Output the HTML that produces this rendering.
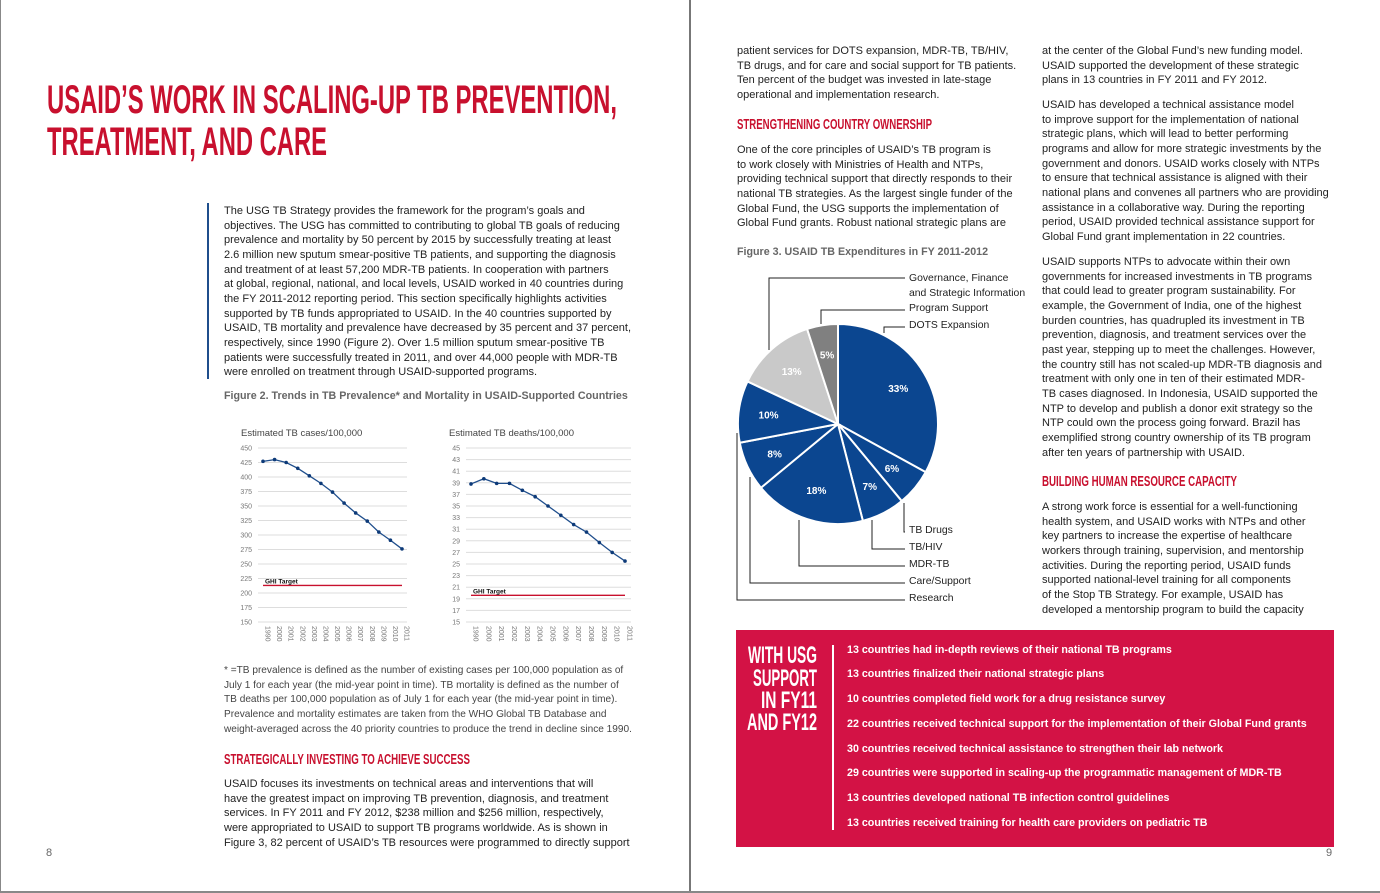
<!DOCTYPE html>
<html><head><meta charset="utf-8">
<style>
body{margin:0;width:1380px;height:893px;background:#fff;position:relative;overflow:hidden;font-family:"Liberation Sans",sans-serif;color:#222}
.t{position:absolute;font-size:11px;line-height:14.65px;white-space:pre;color:#222}
.cap{position:absolute;font-size:10.7px;color:#666;white-space:pre;font-weight:bold}
.pl{position:absolute;font-size:10.4px;white-space:pre;color:#222}
.box{position:absolute;left:736px;top:630px;width:598px;height:217px;background:#d31245}
.bi{position:absolute;left:111px;font-size:10.7px;color:#fff;font-weight:bold;white-space:pre}
.hd{font-family:"Liberation Sans Narrow","Liberation Sans",sans-serif;font-weight:bold;fill:#c8102e}
</style></head><body>
<div style="position:absolute;left:0;top:0;width:1px;height:893px;background:#888"></div>
<div style="position:absolute;left:689px;top:0;width:2px;height:893px;background:#777"></div>
<div style="position:absolute;left:0;top:891px;width:1380px;height:2px;background:#888"></div>

<div style="position:absolute;left:207px;top:203px;width:2px;height:176px;background:#1f4e8c"></div>
<div class="t" style="left:224px;top:204px">The USG TB Strategy provides the framework for the program’s goals and
objectives. The USG has committed to contributing to global TB goals of reducing
prevalence and mortality by 50 percent by 2015 by successfully treating at least
2.6 million new sputum smear-positive TB patients, and supporting the diagnosis
and treatment of at least 57,200 MDR-TB patients. In cooperation with partners
at global, regional, national, and local levels, USAID worked in 40 countries during
the FY 2011-2012 reporting period. This section specifically highlights activities
supported by TB funds appropriated to USAID. In the 40 countries supported by
USAID, TB mortality and prevalence have decreased by 35 percent and 37 percent,
respectively, since 1990 (Figure 2). Over 1.5 million sputum smear-positive TB
patients were successfully treated in 2011, and over 44,000 people with MDR-TB
were enrolled on treatment through USAID-supported programs.</div>
<div class="cap" style="left:224px;top:390px">Figure 2. Trends in TB Prevalence* and Mortality in USAID-Supported Countries</div>

<svg id="lines" style="position:absolute;left:0;top:0" width="690" height="660"></svg>

<div class="t" style="left:224px;top:664px;font-size:10.1px;color:#444">* =TB prevalence is defined as the number of existing cases per 100,000 population as of
July 1 for each year (the mid-year point in time). TB mortality is defined as the number of
TB deaths per 100,000 population as of July 1 for each year (the mid-year point in time).
Prevalence and mortality estimates are taken from the WHO Global TB Database and
weight-averaged across the 40 priority countries to produce the trend in decline since 1990.</div>
<div class="t" style="left:224px;top:777px">USAID focuses its investments on technical areas and interventions that will
have the greatest impact on improving TB prevention, diagnosis, and treatment
services. In FY 2011 and FY 2012, $238 million and $256 million, respectively,
were appropriated to USAID to support TB programs worldwide. As is shown in
Figure 3, 82 percent of USAID’s TB resources were programmed to directly support</div>
<div class="t" style="left:46px;top:846px;color:#666">8</div>
<div class="t" style="left:1326px;top:846px;color:#666">9</div>

<div class="t" style="left:737px;top:44px">patient services for DOTS expansion, MDR-TB, TB/HIV,
TB drugs, and for care and social support for TB patients.
Ten percent of the budget was invested in late-stage
operational and implementation research.</div>
<div class="t" style="left:737px;top:143px">One of the core principles of USAID’s TB program is
to work closely with Ministries of Health and NTPs,
providing technical support that directly responds to their
national TB strategies. As the largest single funder of the
Global Fund, the USG supports the implementation of
Global Fund grants. Robust national strategic plans are</div>
<div class="cap" style="left:737px;top:246px">Figure 3. USAID TB Expenditures in FY 2011-2012</div>

<svg id="pie" style="position:absolute;left:0;top:0" width="1040" height="620"></svg>
<div class="pl" style="left:909px;top:271px;line-height:15px">Governance, Finance
and Strategic Information</div>
<div class="pl" style="left:909px;top:303px">Program Support</div>
<div class="pl" style="left:909px;top:320px">DOTS Expansion</div>
<div class="pl" style="left:909px;top:525px">TB Drugs</div>
<div class="pl" style="left:909px;top:542px">TB/HIV</div>
<div class="pl" style="left:909px;top:559px">MDR-TB</div>
<div class="pl" style="left:909px;top:576px">Care/Support</div>
<div class="pl" style="left:909px;top:593px">Research</div>

<div class="t" style="left:1042px;top:44px">at the center of the Global Fund’s new funding model.
USAID supported the development of these strategic
plans in 13 countries in FY 2011 and FY 2012.</div>
<div class="t" style="left:1042px;top:98px">USAID has developed a technical assistance model
to improve support for the implementation of national
strategic plans, which will lead to better performing
programs and allow for more strategic investments by the
government and donors. USAID works closely with NTPs
to ensure that technical assistance is aligned with their
national plans and convenes all partners who are providing
assistance in a collaborative way. During the reporting
period, USAID provided technical assistance support for
Global Fund grant implementation in 22 countries.</div>
<div class="t" style="left:1042px;top:255px">USAID supports NTPs to advocate within their own
governments for increased investments in TB programs
that could lead to greater program sustainability. For
example, the Government of India, one of the highest
burden countries, has quadrupled its investment in TB
prevention, diagnosis, and treatment services over the
past year, stepping up to meet the challenges. However,
the country still has not scaled-up MDR-TB diagnosis and
treatment with only one in ten of their estimated MDR-
TB cases diagnosed. In Indonesia, USAID supported the
NTP to develop and publish a donor exit strategy so the
NTP could own the process going forward. Brazil has
exemplified strong country ownership of its TB program
after ten years of partnership with USAID.</div>
<div class="t" style="left:1042px;top:500px">A strong work force is essential for a well-functioning
health system, and USAID works with NTPs and other
key partners to increase the expertise of healthcare
workers through training, supervision, and mentorship
activities. During the reporting period, USAID funds
supported national-level training for all components
of the Stop TB Strategy. For example, USAID has
developed a mentorship program to build the capacity</div>

<div class="box">
  <div style="position:absolute;left:96px;top:15px;width:2px;height:185px;background:#fff"></div>
  <div class="bi" style="top:14px">13 countries had in-depth reviews of their national TB programs</div>
  <div class="bi" style="top:38px">13 countries finalized their national strategic plans</div>
  <div class="bi" style="top:63px">10 countries completed field work for a drug resistance survey</div>
  <div class="bi" style="top:88px">22 countries received technical support for the implementation of their Global Fund grants</div>
  <div class="bi" style="top:113px">30 countries received technical assistance to strengthen their lab network</div>
  <div class="bi" style="top:137px">29 countries were supported in scaling-up the programmatic management of MDR-TB</div>
  <div class="bi" style="top:162px">13 countries developed national TB infection control guidelines</div>
  <div class="bi" style="top:187px">13 countries received training for health care providers on pediatric TB</div>
</div>

<svg style="position:absolute;left:0;top:0;pointer-events:none" width="1380" height="893">
  <text class="hd" x="47" y="113" font-size="40" textLength="570" lengthAdjust="spacingAndGlyphs">USAID’S WORK IN SCALING-UP TB PREVENTION,</text>
  <text class="hd" x="47" y="155" font-size="40" textLength="280" lengthAdjust="spacingAndGlyphs">TREATMENT, AND CARE</text>
  <text class="hd" x="224" y="764" font-size="14.5" textLength="246" lengthAdjust="spacingAndGlyphs">STRATEGICALLY INVESTING TO ACHIEVE SUCCESS</text>
  <text class="hd" x="737" y="129" font-size="14.5" textLength="195" lengthAdjust="spacingAndGlyphs">STRENGTHENING COUNTRY OWNERSHIP</text>
  <text class="hd" x="1042" y="486" font-size="14.5" textLength="195" lengthAdjust="spacingAndGlyphs">BUILDING HUMAN RESOURCE CAPACITY</text>
  <g fill="#fff" font-family="Liberation Sans Narrow, Liberation Sans, sans-serif" font-weight="bold" font-size="24">
    <text x="748" y="663" textLength="69" lengthAdjust="spacingAndGlyphs">WITH USG</text>
    <text x="753" y="686" textLength="64" lengthAdjust="spacingAndGlyphs">SUPPORT</text>
    <text x="761" y="708" textLength="56" lengthAdjust="spacingAndGlyphs">IN FY11</text>
    <text x="747" y="730" textLength="70" lengthAdjust="spacingAndGlyphs">AND FY12</text>
  </g>
</svg>

<script>
const years = ["1990","2000","2001","2002","2003","2004","2005","2006","2007","2008","2009","2010","2011"];
const casesValues = [427,430,425,415,402,389,374,355,338,324,305,291,276];
const casesTarget = 213;
const casesTicks = [150,175,200,225,250,275,300,325,350,375,400,425,450];
const deathsValues = [38.8,39.7,38.9,38.9,37.7,36.6,35,33.4,31.8,30.5,28.7,27,25.5];
const deathsTarget = 19.6;
const deathsTicks = [15,17,19,21,23,25,27,29,31,33,35,37,39,41,43,45];
const pieLabels = ["DOTS Expansion","TB Drugs","TB/HIV","MDR-TB","Care/Support","Research","Governance","Program Support"];
const pieValues = [33,6,7,18,8,10,13,5];

const NS="http://www.w3.org/2000/svg";
function mk(parent,tag,attrs){const e=document.createElementNS(NS,tag);for(const k in attrs)e.setAttribute(k,attrs[k]);parent.appendChild(e);return e;}

function lineChart(svg,cfg){
  const {x0,x1,gx0,gx1,yTop,yBot,min,max,ticks,vals,target,title,name}=cfg;
  const g=mk(svg,'g',{});
  
  
  const ys=v=>yBot-(v-min)/(max-min)*(yBot-yTop);
  const xs=i=>x0+i*(x1-x0)/(vals.length-1);
  const tt=mk(g,'text',{x:gx0-17,y:436,'font-size':9.5,fill:'#444','font-family':'Liberation Sans'});
  tt.textContent=title;
  
  
  ticks.forEach(t=>{
    const gl=mk(g,'line',{x1:gx0,x2:gx1,y1:ys(t),y2:ys(t),stroke:'#ddd','stroke-width':1});
    
    
    const tl=mk(g,'text',{x:gx0-6,y:ys(t)+2.5,'font-size':7,fill:'#777','text-anchor':'end','font-family':'Liberation Sans'});
    tl.textContent=t;
    
    
  });
  years.forEach((y,i)=>{
    const xl=mk(g,'text',{'font-size':7,fill:'#777','font-family':'Liberation Sans',transform:`translate(${xs(i)+2.5},${yBot+4}) rotate(90)`});
    xl.textContent=y;
    
    
  });
  const tl=mk(g,'line',{x1:x0,x2:x1,y1:ys(target),y2:ys(target),stroke:'#c8102e','stroke-width':1.3});
  
  
  const tlab=mk(g,'text',{x:x0+2,y:ys(target)-2,'font-size':6.5,'font-weight':'bold',fill:'#111','font-family':'Liberation Sans'});
  tlab.textContent='GHI Target';
  
  
  const pl=mk(g,'polyline',{points:vals.map((v,i)=>xs(i)+','+ys(v)).join(' '),fill:'none',stroke:'#1f4e8c','stroke-width':1.3});
  
  
  vals.forEach((v,i)=>{
    const c=mk(g,'circle',{cx:xs(i),cy:ys(v),r:1.8,fill:'#0d3a78'});
    
    
  });
}
const ls=document.getElementById('lines');
lineChart(ls,{x0:263,x1:402,gx0:258,gx1:407,yTop:448,yBot:622,min:150,max:450,ticks:casesTicks,vals:casesValues,target:casesTarget,title:'Estimated TB cases/100,000',name:'cases-chart'});
lineChart(ls,{x0:471,x1:625,gx0:466,gx1:631,yTop:448,yBot:622,min:15,max:45,ticks:deathsTicks,vals:deathsValues,target:deathsTarget,title:'Estimated TB deaths/100,000',name:'deaths-chart'});

const ps=document.getElementById('pie');
const cx=838,cy=424,R=100;
const cols=['#0b4690','#0b4690','#0b4690','#0b4690','#0b4690','#0b4690','#c9c9c9','#808080'];
const total=pieValues.reduce((a,b)=>a+b,0);
let acc=0;
pieValues.forEach((v,i)=>{
  const a0=acc/total*2*Math.PI, a1=(acc+v)/total*2*Math.PI; acc+=v;
  const p=(a)=>[cx+R*Math.sin(a),cy-R*Math.cos(a)];
  const [xa,ya]=p(a0),[xb,yb]=p(a1);
  const path=mk(ps,'path',{d:`M${cx},${cy} L${xa},${ya} A${R},${R} 0 ${a1-a0>Math.PI?1:0} 1 ${xb},${yb} Z`,fill:cols[i],stroke:'#fff','stroke-width':2});
  
  
  const am=(a0+a1)/2, rr=R*0.7;
  const t=mk(ps,'text',{x:cx+rr*Math.sin(am),y:cy-rr*Math.cos(am)+3.5,'font-size':10,'font-weight':'bold',fill:'#fff','text-anchor':'middle','font-family':'Liberation Sans'});
  t.textContent=v+'%';
  
  
});
const leaders=[[769,350,769,278],[821,324,821,310],[884,333,884,327],[904,503,904,532],[872,520,872,549],[799,520,799,566],[750,477,750,583],[737,433,737,600]];
leaders.forEach(l=>{
  const pl=mk(ps,'polyline',{points:`${l[0]},${l[1]} ${l[2]},${l[3]} 905,${l[3]}`,fill:'none',stroke:'#222','stroke-width':1});
  
  
});
</script>
</body></html>
